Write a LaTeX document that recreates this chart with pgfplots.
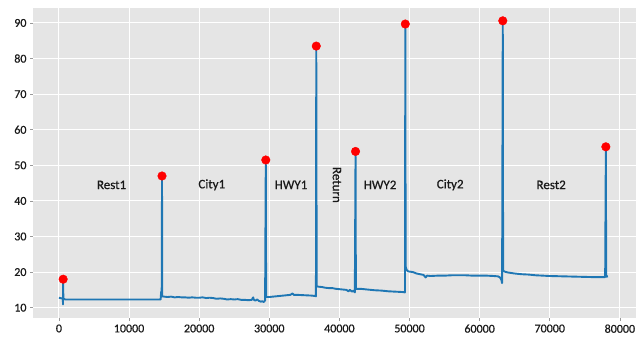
\documentclass[border=0pt]{standalone}
\usepackage{pgfplots}
\pgfplotsset{compat=1.18}
\usepackage{fontspec}
\setmainfont{Carlito}
\newfontfamily\semibold[FakeBold=0.6]{Carlito}
\definecolor{panel}{HTML}{E5E5E5}
\definecolor{trace}{HTML}{1F77B4}
\definecolor{ticktext}{HTML}{1A1A1A}

\begin{document}
\begin{tikzpicture}
\useasboundingbox (-33pt,-22pt) rectangle (604pt,318pt);
\begin{axis}[
  scale only axis, width=603pt, height=310pt,
  xmin=-3700, xmax=82300, ymin=7.1, ymax=94.2,
  axis background/.style={fill=panel},
  axis line style={draw=none},
  grid=major, major grid style={white, line width=1.1pt},
  xtick={0,10000,...,80000}, ytick={10,20,...,90},
  scaled x ticks=false,
  /pgf/number format/1000 sep={},
  /pgf/number format/assume math mode=true,
  tick style={draw=black!40, line width=0.6pt},
  tick align=outside, major tick length=3pt,
  tick label style={font=\semibold\fontsize{12}{14}\selectfont, text=ticktext},
  xtick pos=bottom, ytick pos=left,
  clip=false,
]
% voltage trace over the whole run
\addplot[trace, line width=1.9pt, line join=round] coordinates {
(0,12.8) (200,12.7) (450,12.6) (560,12.4) (580,10.9) (600,18.0) (630,12.3)
(700,12.5) (900,12.3) (2000,12.3) (4000,12.3) (6000,12.3) (8000,12.3)
(10000,12.3) (12000,12.3) (14000,12.3) (14500,12.3) (14580,14.5) (14620,13.0)
(14660,16.0) (14700,47.0) (14730,13.2) (15000,13.1) (15500,13.0) (16000,13.1)
(16500,12.9) (17000,13.0) (17500,12.9) (18000,12.9) (18500,12.8) (19000,12.9)
(19500,12.8) (20000,12.8) (20500,12.9) (21000,12.7) (21500,12.8) (22000,12.7)
(22500,12.5) (23000,12.6) (23500,12.5) (24000,12.3) (24500,12.4) (25000,12.3)
(25500,12.4) (26000,12.2) (26500,12.2) (27000,12.1) (27500,12.2) (27700,12.9)
(27800,12.2) (28000,12.0) (28300,12.3) (28500,11.9) (28800,11.7) (29000,11.8)
(29200,11.6) (29400,12.0) (29500,51.5) (29550,13.0) (30000,13.0) (31000,13.2)
(32000,13.4) (33000,13.6) (33300,14.0) (33500,13.6) (34000,13.6) (35000,13.5)
(36000,13.4) (36500,13.3) (36650,13.2) (36700,83.5) (36760,16.0) (37000,15.9)
(37500,15.8) (38000,15.6) (38500,15.5) (39000,15.5) (39500,15.3) (40000,15.2)
(40500,15.1) (41000,15.0) (41300,14.6) (41500,15.0) (41800,14.5) (42000,14.8)
(42200,14.3) (42300,53.9) (42350,15.3) (43000,15.3) (44000,15.1) (45000,14.9)
(46000,14.8) (47000,14.6) (48000,14.5) (49000,14.4) (49350,14.3) (49400,89.7)
(49450,21.5) (49600,20.6) (49800,20.2) (50500,20.0) (51000,19.6) (51500,19.4)
(52000,19.2) (52300,18.5) (52500,19.0) (53000,18.9) (54000,19.0) (55000,19.0)
(56000,19.1) (57000,19.1) (58000,19.1) (59000,19.0) (60000,19.0) (61000,19.0)
(62000,18.9) (62600,18.8) (62900,18.5) (63100,17.8) (63200,16.9) (63300,90.6)
(63350,20.4) (63600,20.1) (64000,19.9) (65000,19.6) (66000,19.4) (67000,19.3)
(68000,19.1) (69000,19.0) (70000,18.9) (72000,18.8) (74000,18.7) (76000,18.6)
(77900,18.6) (78000,55.2) (78050,18.7) (78300,18.8)
};
% peak markers
\addplot[only marks, mark=*, mark size=4.3pt, color=red] coordinates {
(600,18.0) (14700,47.0) (29500,51.5) (36700,83.5) (42300,53.9)
(49400,89.7) (63300,90.6) (78000,55.2)
};
% segment names
\begin{scope}[every node/.style={font=\semibold\fontsize{13}{15}\selectfont, text=black!90}]
\node at (axis cs:7500,44.5) {Rest1};
\node at (axis cs:21800,44.5) {City1};
\node at (axis cs:33100,44.5) {HWY1};
\node[rotate=-90] at (axis cs:39650,44.5) {Return};
\node at (axis cs:45800,44.5) {HWY2};
\node at (axis cs:55800,44.5) {City2};
\node at (axis cs:70200,44.5) {Rest2};
\end{scope}
\end{axis}
\end{tikzpicture}
\end{document}
